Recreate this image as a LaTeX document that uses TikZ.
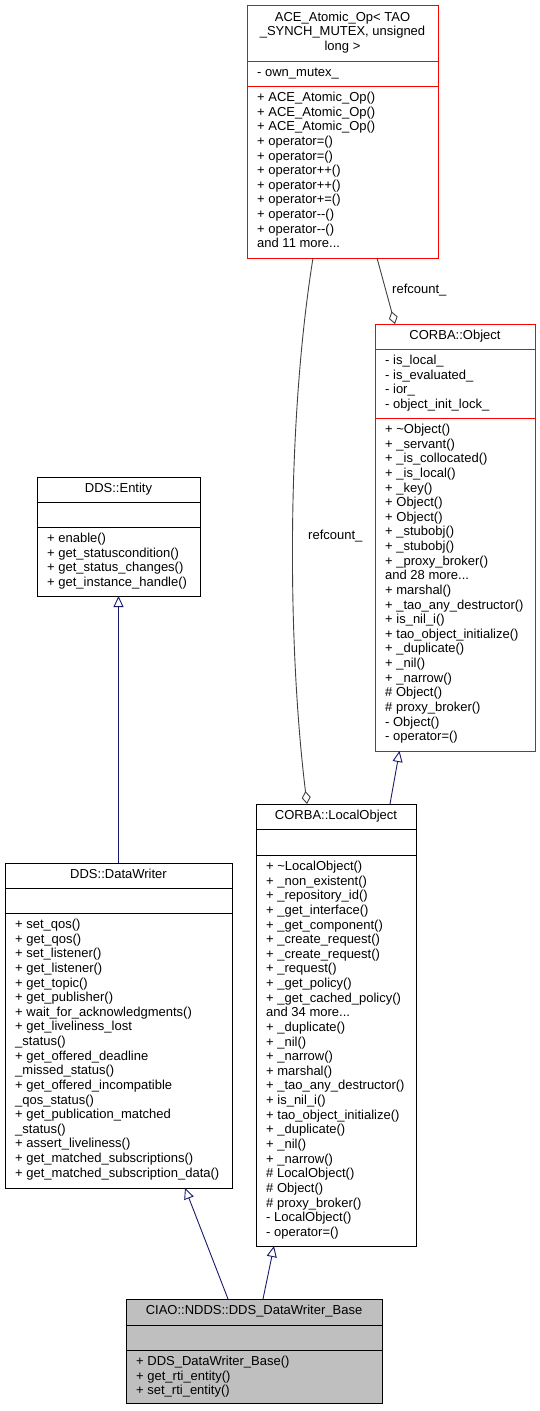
\documentclass[tikz,border=0pt]{standalone}
\usepackage{fontspec}
\setmainfont{Liberation Sans}
\usetikzlibrary{arrows.meta}
\definecolor{inhcol}{RGB}{25,25,112}
\definecolor{aggcol}{RGB}{64,64,64}
\definecolor{basefill}{RGB}{191,191,191}
\newcommand\fl{\rule{0pt}{10pt}}
\tikzset{
  cls/.style={draw, line width=0.9pt, inner sep=0pt, outer sep=0pt, anchor=north west, fill=white},
  memb/.style={inner sep=0pt, anchor=north west, align=left, font=\fontsize{13}{14.63}\selectfont},
  hdr/.style={inner sep=0pt, anchor=north, align=center, font=\fontsize{13}{14.63}\selectfont},
  inh/.style={draw=inhcol, line width=0.9pt, -{Triangle[open, length=11pt, width=10pt, fill=white]}},
  agg/.style={draw=aggcol, line width=0.9pt, -{Diamond[open, length=13pt, width=9pt, fill=white]}},
  lbl/.style={inner sep=0pt, anchor=base west, font=\fontsize{13}{14.63}\selectfont},
  sep/.style={line width=0.9pt},
}
\begin{document}
\begin{tikzpicture}[x=1pt, y=-1pt]
\useasboundingbox (0,0) rectangle (540,1411);

% ACE_Atomic_Op
\node[cls, draw=red, minimum width=191pt, minimum height=253pt] (ace) at (247,5) {};
\draw[sep, red] (247,61) -- (438,61);
\draw[sep, red] (247,86) -- (438,86);
\node[hdr] (aceh) at (342.5,11) {\fl ACE\_Atomic\_Op< TAO\\\_SYNCH\_MUTEX, unsigned\\long >};
\node[memb] (acea) at (257,66.3) {\fl- own\_mutex\_};
\node[memb] (acem) at (257,91.3) {\fl+ ACE\_Atomic\_Op()\\+ ACE\_Atomic\_Op()\\+ ACE\_Atomic\_Op()\\+ operator=()\\+ operator=()\\+ operator++()\\+ operator++()\\+ operator+=()\\+ operator-{}-()\\+ operator-{}-()\\and 11 more...};

% CORBA::Object
\node[cls, draw=red, minimum width=160pt, minimum height=427pt] (obj) at (375,324) {};
\draw[sep, red] (375,349) -- (535,349);
\draw[sep, red] (375,418) -- (535,418);
\node[hdr] (objh) at (455,329.3) {\fl CORBA::Object};
\node[memb] (obja) at (385,354.3) {\fl- is\_local\_\\- is\_evaluated\_\\- ior\_\\- object\_init\_lock\_};
\node[memb] (objm) at (385,423.3) {\fl+ \textasciitilde Object()\\+ \_servant()\\+ \_is\_collocated()\\+ \_is\_local()\\+ \_key()\\+ Object()\\+ Object()\\+ \_stubobj()\\+ \_stubobj()\\+ \_proxy\_broker()\\and 28 more...\\+ marshal()\\+ \_tao\_any\_destructor()\\+ is\_nil\_i()\\+ tao\_object\_initialize()\\+ \_duplicate()\\+ \_nil()\\+ \_narrow()\\\# Object()\\\# proxy\_broker()\\- Object()\\- operator=()};

% DDS::Entity
\node[cls, minimum width=163pt, minimum height=119pt] (ent) at (37,477) {};
\draw[sep] (37,502) -- (200,502);
\draw[sep] (37,527) -- (200,527);
\node[hdr] (enth) at (118.5,482.3) {\fl DDS::Entity};
\node[memb] (entm) at (47,532.3) {\fl+ enable()\\+ get\_statuscondition()\\+ get\_status\_changes()\\+ get\_instance\_handle()};

% DDS::DataWriter
\node[cls, minimum width=227pt, minimum height=325pt] (dw) at (5,863) {};
\draw[sep] (5,888) -- (232,888);
\draw[sep] (5,913) -- (232,913);
\node[hdr] (dwh) at (118.5,868.3) {\fl DDS::DataWriter};
\node[memb] (dwm) at (15,918.3) {\fl+ set\_qos()\\+ get\_qos()\\+ set\_listener()\\+ get\_listener()\\+ get\_topic()\\+ get\_publisher()\\+ wait\_for\_acknowledgments()\\+ get\_liveliness\_lost\\\_status()\\+ get\_offered\_deadline\\\_missed\_status()\\+ get\_offered\_incompatible\\\_qos\_status()\\+ get\_publication\_matched\\\_status()\\+ assert\_liveliness()\\+ get\_matched\_subscriptions()\\+ get\_matched\_subscription\_data()};

% CORBA::LocalObject
\node[cls, minimum width=160pt, minimum height=442pt] (lo) at (256,804) {};
\draw[sep] (256,829) -- (416,829);
\draw[sep] (256,855) -- (416,855);
\node[hdr] (loh) at (336,809.3) {\fl CORBA::LocalObject};
\node[memb] (lom) at (266,860.3) {\fl+ \textasciitilde LocalObject()\\+ \_non\_existent()\\+ \_repository\_id()\\+ \_get\_interface()\\+ \_get\_component()\\+ \_create\_request()\\+ \_create\_request()\\+ \_request()\\+ \_get\_policy()\\+ \_get\_cached\_policy()\\and 34 more...\\+ \_duplicate()\\+ \_nil()\\+ \_narrow()\\+ marshal()\\+ \_tao\_any\_destructor()\\+ is\_nil\_i()\\+ tao\_object\_initialize()\\+ \_duplicate()\\+ \_nil()\\+ \_narrow()\\\# LocalObject()\\\# Object()\\\# proxy\_broker()\\- LocalObject()\\- operator=()};

% CIAO::NDDS::DDS_DataWriter_Base
\node[cls, fill=basefill, minimum width=256pt, minimum height=104pt] (base) at (126,1299) {};
\draw[sep] (126,1325) -- (382,1325);
\draw[sep] (126,1350) -- (382,1350);
\node[hdr] (baseh) at (254,1304.3) {\fl CIAO::NDDS::DDS\_DataWriter\_Base};
\node[memb] (basem) at (136,1355.3) {\fl+ DDS\_DataWriter\_Base()\\+ get\_rti\_entity()\\+ set\_rti\_entity()};

% inheritance
\draw[inh] (dw.north) -- (ent.south);
\draw[inh] ([xshift=54pt]lo.north) -- ([xshift=-55.5pt]obj.south);
\draw[inh] ([xshift=-26pt]base.north) -- ([xshift=66.5pt]dw.south);
\draw[inh] ([xshift=9pt]base.north) -- ([xshift=-62pt]lo.south);

% aggregation
\draw[agg] ([xshift=-29.5pt]ace.south) .. controls (287,420) and (287,640) .. ([xshift=-29pt]lo.north);
\draw[agg] ([xshift=34.5pt]ace.south) -- ([xshift=-60pt]obj.north);
\node[lbl] (rc1) at (308,539) {refcount\_};
\node[lbl] (rc2) at (392,293) {refcount\_};
\end{tikzpicture}
\end{document}
